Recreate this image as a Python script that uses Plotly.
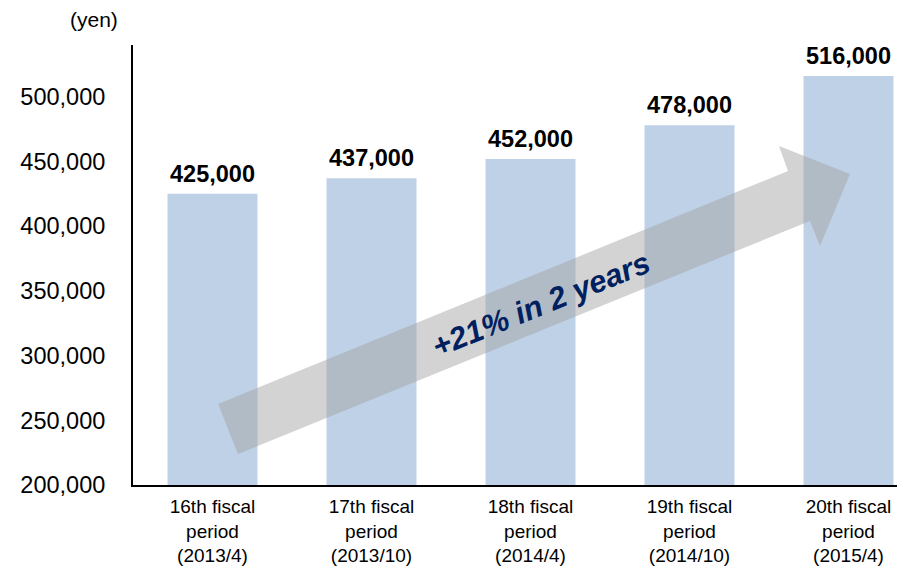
import plotly.graph_objects as go

categories = ["16th fiscal<br>period<br>(2013/4)", "17th fiscal<br>period<br>(2013/10)",
              "18th fiscal<br>period<br>(2014/4)", "19th fiscal<br>period<br>(2014/10)",
              "20th fiscal<br>period<br>(2015/4)"]
values = [425000, 437000, 452000, 478000, 516000]
value_labels = ["425,000", "437,000", "452,000", "478,000", "516,000"]
y_ticks = [200000, 250000, 300000, 350000, 400000, 450000, 500000]
y_tick_labels = ["200,000", "250,000", "300,000", "350,000", "400,000", "450,000", "500,000"]

# the page body has an 8px margin; layout numbers below compensate for it
OFF = 8
W, H = 905, 569
L, R, T, B = 133 - OFF, 0, 45 - OFF, 569 - (485 - OFF)
pw, ph = W - L - R, H - T - B
FONT = "Liberation Sans, Arial"

fig = go.Figure()
fig.add_trace(go.Bar(x=categories, y=values, marker=dict(color="#BFD1E7", line=dict(width=0)),
                     hoverinfo="skip"))

for c, v, lab in zip(categories, values, value_labels):
    fig.add_annotation(x=c, y=v, text="<b>%s</b>" % lab, showarrow=False, yanchor="bottom",
                       xanchor="center", yshift=5,
                       font=dict(family=FONT, size=23.5, color="#000000"))

# decorative arrow, given in screen pixels, converted to paper coordinates
arrow_px = [(218, 404), (788, 171), (779, 146), (850, 174), (820, 246), (810, 221), (238, 454)]
def to_paper(p):
    fx, fy = p[0] - OFF, p[1] - OFF
    return ((fx - L) / pw, (H - B - fy) / ph)
pts = [to_paper(p) for p in arrow_px]
path = "M " + " L ".join("%.4f,%.4f" % p for p in pts) + " Z"
fig.add_shape(type="path", path=path, xref="paper", yref="paper",
              fillcolor="rgba(164,164,164,0.48)", line=dict(width=0), layer="above")

tx, ty = to_paper((541, 304))
fig.add_annotation(x=tx, y=ty, xref="paper", yref="paper", text="<b><i>+21% in 2 years</i></b>",
                   showarrow=False, textangle=-22, xanchor="center", yanchor="middle",
                   font=dict(family=FONT, size=31, color="#002060"))

yx, yy = to_paper((94, 20))
fig.add_annotation(x=yx, y=yy, xref="paper", yref="paper", text="(yen)", showarrow=False,
                   xanchor="center", yanchor="middle",
                   font=dict(family=FONT, size=21, color="#000000"))

# x range: category spacing of 159 px, plot area runs past the window's right edge
x_end = -0.5 + pw / 159.0

fig.update_layout(
    width=W, height=H,
    margin=dict(l=L, r=R, t=T, b=B, autoexpand=False),
    plot_bgcolor="white", paper_bgcolor="white",
    showlegend=False, bargap=0.434,
    font=dict(family=FONT, color="#000000"),
)
fig.update_xaxes(range=[-0.5, x_end], showline=True, linecolor="#000000", linewidth=2,
                 showgrid=False, ticks="", tickfont=dict(size=19), ticklabelstandoff=3,
                 automargin=False)
fig.update_yaxes(range=[200000, 540000], tickvals=y_ticks, ticktext=y_tick_labels,
                 showline=True, linecolor="#000000", linewidth=2, showgrid=False, zeroline=False,
                 ticks="", tickfont=dict(size=23.5), ticklabelstandoff=21, automargin=False)

fig.write_html("out.html")
